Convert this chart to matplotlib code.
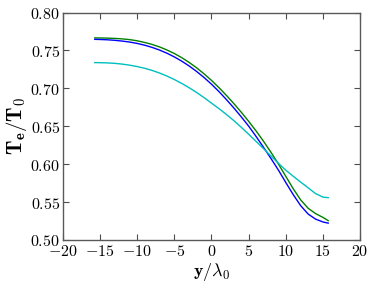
import matplotlib
matplotlib.use("Agg")
import matplotlib.pyplot as plt
from matplotlib.ticker import FuncFormatter, MultipleLocator

plt.rcParams['mathtext.fontset'] = 'cm'
plt.rcParams['font.family'] = 'serif'

# values
y_pos = [-15.7, -15, -14, -13, -12, -11, -10, -9, -8, -7, -6, -5, -4, -3, -2, -1,
         0, 1, 2, 3, 4, 5, 6, 7, 8, 9, 10, 11, 12, 13, 14, 15, 15.7]
te_green = [0.7666, 0.7665, 0.7663, 0.7659, 0.7653, 0.7643, 0.7628, 0.7606, 0.7580,
            0.7547, 0.7507, 0.7460, 0.7405, 0.7342, 0.7271, 0.7192,
            0.7105, 0.7010, 0.6908, 0.6800, 0.6686, 0.6565, 0.6438, 0.6302, 0.6157,
            0.6003, 0.5838, 0.5675, 0.5528, 0.5418, 0.5348, 0.5297, 0.5255]
te_blue = [0.7647, 0.7645, 0.7641, 0.7634, 0.7624, 0.7611, 0.7593, 0.7570, 0.7541,
           0.7506, 0.7464, 0.7415, 0.7359, 0.7295, 0.7223, 0.7143,
           0.7055, 0.6958, 0.6853, 0.6742, 0.6625, 0.6502, 0.6365, 0.6222, 0.6075,
           0.5922, 0.5757, 0.5597, 0.5452, 0.5342, 0.5275, 0.5237, 0.5222]
te_cyan = [0.7340, 0.7339, 0.7336, 0.7330, 0.7320, 0.7306, 0.7288, 0.7265, 0.7237,
           0.7203, 0.7163, 0.7117, 0.7065, 0.7008, 0.6946, 0.6878,
           0.6805, 0.6733, 0.6656, 0.6575, 0.6487, 0.6395, 0.6300, 0.6205, 0.6108,
           0.6012, 0.5920, 0.5840, 0.5763, 0.5688, 0.5612, 0.5565, 0.5558]

fig = plt.figure(figsize=(3.74, 2.86), dpi=100)
ax = fig.add_axes([0.168, 0.161, 0.795, 0.795])

ax.plot(y_pos, te_green, color=(0, 0.5, 0), lw=1)
ax.plot(y_pos, te_blue, color=(0, 0, 1), lw=1)
ax.plot(y_pos, te_cyan, color=(0, 0.75, 0.75), lw=1)

ax.set_xlim(-20, 20)
ax.set_ylim(0.50, 0.80)
ax.xaxis.set_major_locator(MultipleLocator(5))
ax.yaxis.set_major_locator(MultipleLocator(0.05))
ax.xaxis.set_major_formatter(FuncFormatter(lambda v, p: r'$%d$' % round(v)))
ax.yaxis.set_major_formatter(FuncFormatter(lambda v, p: r'$%.2f$' % v))
ax.tick_params(direction='in', top=True, right=True, length=4, width=0.8,
               labelsize=11.5, pad=2, color='0.3')
for s in ax.spines.values():
    s.set_linewidth(1)
    s.set_color('0.35')

ax.set_xlabel(r'$\mathbf{y/\lambda_0}$', fontsize=13, labelpad=1)
ax.set_ylabel(r'$\mathbf{T_e/T_0}$', fontsize=15, labelpad=1)

fig.savefig("out.png", dpi=100)
